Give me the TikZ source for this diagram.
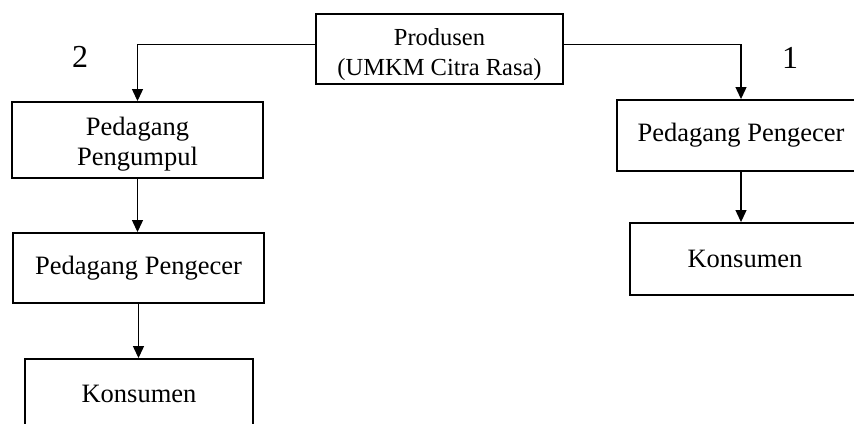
\documentclass[tikz,border=0pt]{standalone}
\usepackage{fontspec}
\setmainfont{Liberation Serif}
\usetikzlibrary{arrows.meta}
\begin{document}
\begin{tikzpicture}[x=1pt,y=-1pt,
 box/.style={draw, line width=1.9pt, inner sep=0pt, align=center, font=\fontsize{26.5}{29.5}\selectfont},
 conn/.style={line width=1.2pt, -{Triangle[width=11pt,length=12pt]}},
 num/.style={font=\fontsize{32}{36}\selectfont}]
\useasboundingbox (0,0) rectangle (854,423);
\clip (0,0) rectangle (854,423);
\node[box, minimum width=247pt, minimum height=70pt, font=\fontsize{24.5}{30}\selectfont] (prod) at (439.5,49) {\rule{0pt}{28pt}Produsen\\(UMKM Citra Rasa)};
\node[box, minimum width=251pt, minimum height=76pt] (pengL) at (137.5,140) {\rule{0pt}{27pt}Pedagang\\Pengumpul};
\node[box, minimum width=251pt, minimum height=70pt] (ecerL) at (138.5,268) {Pedagang Pengecer};
\node[box, minimum width=228pt, minimum height=70pt] (konsL) at (139,394) {Konsumen};
\node[box, minimum width=248pt, minimum height=71pt] (ecerR) at (741,135.5) {Pedagang Pengecer};
\node[box, minimum width=230pt, minimum height=72pt] (konsR) at (745,259) {Konsumen};
\node[num] (n2) at (80,57) {2};
\node[num] (n1) at (790,58) {1};
\draw[conn] ([yshift=4.5pt]prod.west) -| (pengL.north);
\draw[conn] ([yshift=4.5pt]prod.east) -| (ecerR.north);
\draw[conn] (pengL.south) -- (pengL.south |- ecerL.north);
\draw[conn] (ecerL.south) -- (ecerL.south |- konsL.north);
\draw[conn] (ecerR.south) -- (ecerR.south |- konsR.north);
\end{tikzpicture}
\end{document}
